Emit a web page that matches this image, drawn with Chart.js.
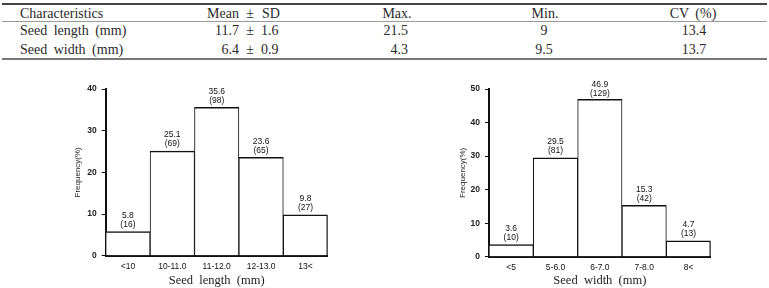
<!DOCTYPE html>
<html>
<head>
<meta charset="utf-8">
<script src="https://cdn.jsdelivr.net/npm/chart.js@4.4.1/dist/chart.umd.min.js"></script>
<style>
  html, body { margin: 0; padding: 0; background: #fff; }
  #wrap { position: relative; width: 769px; height: 288px; overflow: hidden; background: #fff; }
  .rule { position: absolute; left: 2px; width: 765px; }
  .cell { position: absolute; font-family: "Liberation Serif", "Times New Roman", serif; font-size: 14px; line-height: 18px; color: #2a2a2a; white-space: pre; word-spacing: 3px; }
  canvas { position: absolute; }
</style>
</head>
<body>
<div id="wrap">
  <div class="rule" style="top:3px;height:2px;background:#444;"></div>
  <div class="rule" style="top:21px;height:1px;background:#9a9a9a;"></div>
  <div class="rule" style="top:58px;height:2px;background:#777;"></div>
  <div id="table"></div>
  <canvas id="c1" width="300" height="218" style="left:40px;top:70px;width:300px;height:218px;"></canvas>
  <canvas id="c2" width="300" height="218" style="left:420px;top:70px;width:300px;height:218px;"></canvas>
</div>
<script>
// ---------- data ----------
const tableHeaders = ["Characteristics", "Mean", "±", "SD", "Max.", "Min.", "CV (%)"];
const rowLabels = ["Seed length (mm)", "Seed width (mm)"];
const meanValues = ["11.7", "6.4"];
const sdValues = ["1.6", "0.9"];
const maxValues = ["21.5", "4.3"];
const minValues = ["9", "9.5"];
const cvValues = ["13.4", "13.7"];

const lengthCategories = ["<10", "10-11.0", "11-12.0", "12-13.0", "13<"];
const lengthPercent = [5.8, 25.1, 35.6, 23.6, 9.8];
const lengthCounts = [16, 69, 98, 65, 27];
const lengthTicks = [0, 10, 20, 30, 40];

const widthCategories = ["<5", "5-6.0", "6-7.0", "7-8.0", "8<"];
const widthPercent = [3.6, 29.5, 46.9, 15.3, 4.7];
const widthCounts = [10, 81, 129, 42, 13];
const widthTicks = [0, 10, 20, 30, 40, 50];

// ---------- table ----------
const tbl = document.getElementById('table');
function cell(text, top, x, align) {
  const d = document.createElement('div');
  d.className = 'cell';
  d.textContent = text;
  d.style.top = top + 'px';
  if (align === 'left') { d.style.left = x + 'px'; }
  else if (align === 'right') { d.style.left = (x - 200) + 'px'; d.style.width = '200px'; d.style.textAlign = 'right'; }
  else { d.style.left = (x - 100) + 'px'; d.style.width = '200px'; d.style.textAlign = 'center'; }
  tbl.appendChild(d);
}
const rowTops = [4.6, 22.3, 41.3];
cell(tableHeaders[0], rowTops[0], 20, 'left');
cell(tableHeaders[1], rowTops[0], 239, 'right');
cell(tableHeaders[2], rowTops[0], 250, 'center');
cell(tableHeaders[3], rowTops[0], 262, 'left');
cell(tableHeaders[4], rowTops[0], 397, 'center');
cell(tableHeaders[5], rowTops[0], 545, 'center');
cell(tableHeaders[6], rowTops[0], 693, 'center');
for (let i = 0; i < rowLabels.length; i++) {
  const t = rowTops[i + 1];
  cell(rowLabels[i], t, 20, 'left');
  cell(meanValues[i], t, 239, 'right');
  cell("±", t, 250, 'center');
  cell(sdValues[i], t, 261, 'left');
  cell(maxValues[i], t, 408, 'right');
  cell(minValues[i], t, 544, 'center');
  cell(cvValues[i], t, 694, 'center');
}

// ---------- charts ----------
const sansFont = "'Liberation Sans', Arial, sans-serif";
const serifFont = "'Liberation Serif', 'Times New Roman', serif";

const barLabelPlugin = {
  id: 'barLabels',
  afterDatasetsDraw(chart) {
    const ctx = chart.ctx;
    const meta = chart.getDatasetMeta(0);
    const ds = chart.data.datasets[0];
    const counts = chart.options.plugins.barLabels.counts;
    ctx.save();
    ctx.font = "8.5px " + sansFont;
    ctx.fillStyle = '#111';
    ctx.textAlign = 'center';
    ctx.textBaseline = 'middle';
    meta.data.forEach((bar, i) => {
      let y1 = bar.y - 16;
      const minY = chart.chartArea.top - 4;
      if (y1 < minY) y1 = minY;
      ctx.fillText(ds.data[i].toFixed(1), bar.x, y1);
      ctx.fillText('(' + counts[i] + ')', bar.x, y1 + 9);
    });
    ctx.restore();
  }
};

function makeChart(id, cats, vals, counts, ticks, title, yWidth, xHeight, rightPad, titleOffset) {
  const n = vals.length;
  return new Chart(document.getElementById(id), {
    type: 'bar',
    data: {
      labels: cats,
      datasets: [{
        data: vals,
        backgroundColor: '#ffffff',
        borderColor: '#111',
        borderWidth: (c) => ({ top: 1.5, left: 1, right: c.dataIndex === n - 1 ? 1.5 : 1, bottom: 0 }),
        borderSkipped: false,
        barPercentage: 1,
        categoryPercentage: 1
      }]
    },
    options: {
      responsive: false,
      animation: false,
      devicePixelRatio: 1,
      layout: { padding: { top: 19, right: rightPad, bottom: 0, left: 0 } },
      plugins: {
        legend: { display: false },
        tooltip: { enabled: false },
        barLabels: { counts: counts }
      },
      scales: {
        x: {
          grid: { display: false, drawTicks: false },
          border: { display: true, color: '#111', width: 2 },
          ticks: { color: '#111', font: { family: sansFont, size: 8.5 }, padding: 6, maxRotation: 0, autoSkip: false },
          title: { display: true, text: title, color: '#222', font: { family: serifFont, size: 12.5, lineHeight: 1.1 }, padding: { top: 0, bottom: 0 } },
          afterFit: (s) => { s.height = xHeight; }
        },
        y: {
          min: ticks[0],
          max: ticks[ticks.length - 1],
          afterBuildTicks: (s) => { s.ticks = ticks.map(v => ({ value: v })); },
          grid: { drawOnChartArea: false, drawTicks: true, tickLength: 4, color: '#111', lineWidth: 1 },
          border: { display: true, color: '#111', width: 2 },
          ticks: { color: '#222', font: { family: sansFont, size: 8.5, weight: 'bold' }, padding: 5 },
          title: { display: true, text: 'Frequency(%)', color: '#222', font: { family: sansFont, size: 8, lineHeight: 1.2 }, padding: { top: titleOffset, bottom: 0 } },
          afterFit: (s) => { s.width = yWidth; }
        }
      }
    },
    plugins: [barLabelPlugin]
  });
}

makeChart('c1', lengthCategories, lengthPercent, lengthCounts, lengthTicks, 'Seed  length  (mm)', 65.7, 32.3, 12.3, 33.2);
makeChart('c2', widthCategories, widthPercent, widthCounts, widthTicks, 'Seed  width  (mm)', 69, 31.3, 9.3, 37.9);
</script>
</body>
</html>
